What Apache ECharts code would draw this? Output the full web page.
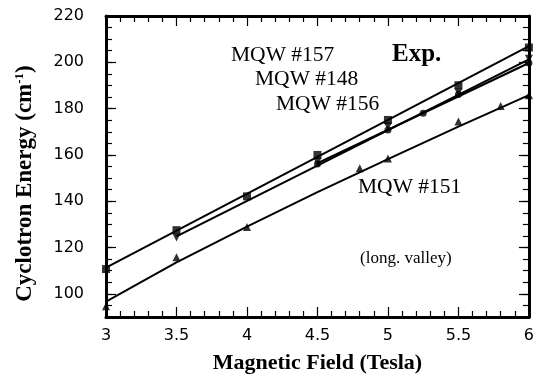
<!DOCTYPE html>
<html>
<head>
<meta charset="utf-8">
<script src="https://cdn.jsdelivr.net/npm/echarts@6/dist/echarts.min.js"></script>
<style>
  html, body { margin: 0; padding: 0; background: #fff; }
  #chart { width: 537px; height: 379px; }
</style>
</head>
<body>
<div id="chart"></div>
<script>
// Cyclotron resonance energy versus magnetic field for four MQW samples.

// Measured points per sample
const field157 = [3, 3.5, 4, 4.5, 5, 5.5, 6];
const energy157 = [110.7, 127.5, 142.1, 160.0, 175.1, 190.1, 206.4];

const field148 = [3.5, 4.5, 5, 5.5, 6];
const energy148 = [124.3, 157.0, 172.3, 187.0, 201.5];

const field156 = [4.5, 5, 5.25, 5.5, 6];
const energy156 = [156.1, 170.8, 178.0, 186.1, 199.7];

const field151 = [3, 3.5, 4, 4.8, 5, 5.5, 5.8, 6];
const energy151 = [94.6, 115.8, 128.9, 154.2, 158.5, 174.4, 181.1, 185.8];

// Fitted curves
const fitField157 = [3, 6];
const fitEnergy157 = [111.3, 207.0];
const fitField148 = [3.5, 6];
const fitEnergy148 = [124.8, 201.3];
const fitField156 = [4.5, 6];
const fitEnergy156 = [156.4, 199.7];
const fitField151 = [3, 3.5, 4, 4.5, 5, 5.5, 6];
const fitEnergy151 = [96.6, 113.6, 129.0, 143.9, 158.2, 172.2, 185.8];

// Labelled ticks
const fieldTicks = [3, 3.5, 4, 4.5, 5, 5.5, 6];
const energyTicks = [100, 120, 140, 160, 180, 200, 220];

const pairs = (xs, ys) => xs.map((x, i) => [x, ys[i]]);

const serif = 'Liberation Serif';
const sans = 'DejaVu Sans';

const baseX = {
  type: 'value', min: 3, max: 6, interval: 0.5,
  axisLine: { show: true, onZero: false, lineStyle: { color: '#000', width: 3 } },
  axisTick: { show: true, inside: true, length: 10, lineStyle: { color: '#000', width: 1.2 } },
  minorTick: { show: true, splitNumber: 5, length: 6, lineStyle: { color: '#000', width: 1.2 } },
  splitLine: { show: false },
  minorSplitLine: { show: false }
};

function makeY(position, withLabels, major) {
  const ax = {
    type: 'value', min: 90, max: 220, interval: 5, position: position,
    axisLine: { show: !major, onZero: false, lineStyle: { color: '#000', width: 3 } },
    axisTick: major
      ? { show: true, inside: true, length: 10, customValues: energyTicks, lineStyle: { color: '#000', width: 1.2 } }
      : { show: true, inside: true, length: 6, lineStyle: { color: '#000', width: 1.2 } },
    axisLabel: { show: false },
    splitLine: { show: false }
  };
  if (withLabels) {
    ax.axisLabel = {
      show: true, customValues: energyTicks, margin: 22,
      color: '#000', fontFamily: sans, fontSize: 16
    };
    ax.name = '{t|Cyclotron Energy (cm}{s|-1}{t|)}';
    ax.nameLocation = 'middle';
    ax.nameGap = 68;
    ax.nameTextStyle = {
      padding: [0, 34, 0, 0],
      rich: {
        t: { fontFamily: serif, fontWeight: 'bold', fontSize: 23, color: '#000' },
        s: { fontFamily: serif, fontWeight: 'bold', fontSize: 13, color: '#000', verticalAlign: 'top', padding: [0, 0, 12, 0] }
      }
    };
  }
  return ax;
}

const lineStyle = { color: '#000', width: 2 };
function fitSeries(xs, ys) {
  return {
    type: 'line', xAxisIndex: 0, yAxisIndex: 0, data: pairs(xs, ys),
    showSymbol: false, symbol: 'none', lineStyle: lineStyle, silent: true, z: 3
  };
}
function pointSeries(xs, ys, symbol, size, rotate) {
  return {
    type: 'scatter', xAxisIndex: 0, yAxisIndex: 0, data: pairs(xs, ys),
    symbol: symbol, symbolSize: size, symbolRotate: rotate || 0,
    itemStyle: { color: '#000' }, z: 4
  };
}

const labelFont = '21.5px "Liberation Serif"';

const chart = echarts.init(document.getElementById('chart'), null, { renderer: 'canvas' });
chart.setOption({
  backgroundColor: '#fff',
  animation: false,
  grid: { left: 106, right: 6, top: 16, bottom: 60 },
  xAxis: [
    Object.assign({}, baseX, {
      position: 'bottom',
      axisLabel: { show: true, margin: 11, color: '#000', fontFamily: sans, fontSize: 16,
        customValues: fieldTicks },
      name: 'Magnetic Field (Tesla)', nameLocation: 'middle', nameGap: 35,
      nameTextStyle: { fontFamily: serif, fontWeight: 'bold', fontSize: 22, color: '#000' }
    }),
    Object.assign({}, baseX, { position: 'top', axisLabel: { show: false } })
  ],
  yAxis: [
    makeY('left', true, false),
    makeY('left', false, true),
    makeY('right', false, false),
    makeY('right', false, true)
  ],
  series: [
    fitSeries(fitField157, fitEnergy157),
    fitSeries(fitField148, fitEnergy148),
    fitSeries(fitField156, fitEnergy156),
    fitSeries(fitField151, fitEnergy151),
    pointSeries(field157, energy157, 'rect', 8),
    pointSeries(field148, energy148, 'triangle', 8, 180),
    pointSeries(field156, energy156, 'circle', 7),
    pointSeries(field151, energy151, 'triangle', 8)
  ],
  graphic: [
    { type: 'text', left: 231, top: 44, style: { text: 'MQW #157', font: labelFont, fill: '#000' } },
    { type: 'text', left: 255, top: 68, style: { text: 'MQW #148', font: labelFont, fill: '#000' } },
    { type: 'text', left: 276, top: 93, style: { text: 'MQW #156', font: labelFont, fill: '#000' } },
    { type: 'text', left: 392, top: 42, style: { text: 'Exp.', font: 'bold 25px "Liberation Serif"', fill: '#000' } },
    { type: 'text', left: 358, top: 176, style: { text: 'MQW #151', font: labelFont, fill: '#000' } },
    { type: 'text', left: 360, top: 250, style: { text: '(long. valley)', font: '17px "Liberation Serif"', fill: '#000' } }
  ]
});
</script>
</body>
</html>
